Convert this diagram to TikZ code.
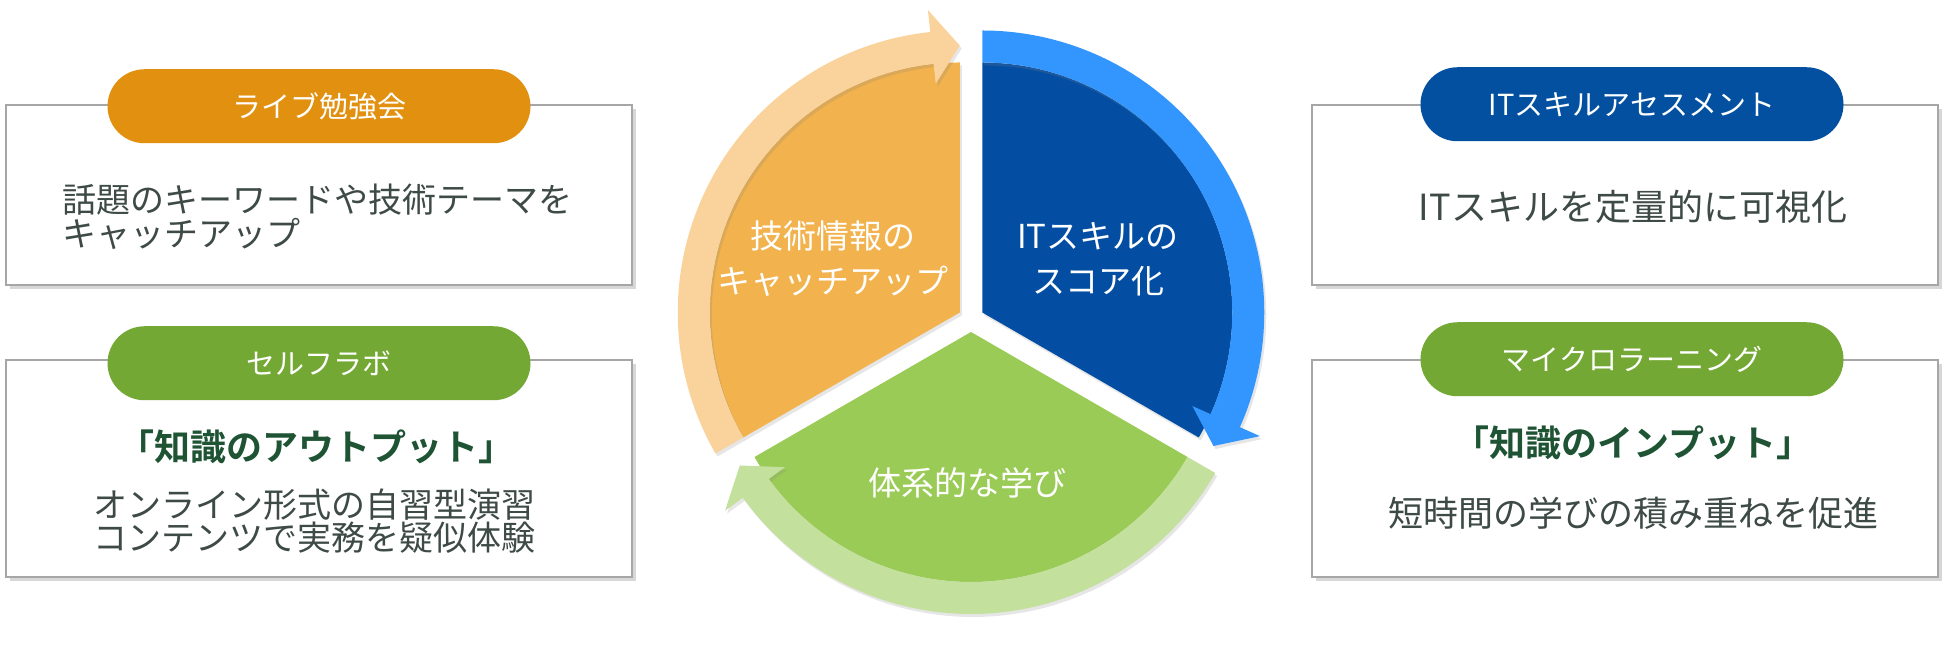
\documentclass[tikz,border=0pt]{standalone}
\usepackage{fontspec}
\setmainfont{Noto Sans CJK JP}[BoldFont={Noto Sans CJK JP Bold}]
\usetikzlibrary{calc,shadows}
\definecolor{orangeS}{HTML}{F2B24D}
\definecolor{orangeL}{HTML}{F9D39B}
\definecolor{orangeP}{HTML}{E2900F}
\definecolor{blueS}{HTML}{034EA2}
\definecolor{blueL}{HTML}{3296FE}
\definecolor{blueP}{HTML}{0350A0}
\definecolor{greenS}{HTML}{9BCB57}
\definecolor{greenL}{HTML}{C3E09C}
\definecolor{greenP}{HTML}{74A834}
\definecolor{headtxt}{HTML}{1E5434}
\definecolor{bodytxt}{HTML}{3D4A45}
\definecolor{frame}{HTML}{A6A6A6}
\begin{document}
\begin{tikzpicture}[x=.5pt,y=.5pt,
  panel/.style={draw=frame,line width=.75pt,fill=white,minimum width=313pt,
    drop shadow={shadow xshift=2pt,shadow yshift=-2pt,opacity=.35,fill=black!45}},
  pill/.style={rounded corners=18.5pt,minimum width=211.5pt,minimum height=37pt,
    text=white,inner sep=0pt,font=\fontsize{14.5}{16}\selectfont},
  body/.style={text=bodytxt,inner sep=0pt,font=\fontsize{17}{17}\selectfont},
  headline/.style={text=headtxt,inner sep=0pt,font=\bfseries\fontsize{18}{20}\selectfont},
  slicetxt/.style={text=white,inner sep=0pt,align=center,font=\fontsize{16.5}{22.5}\selectfont},
  pieshadow/.style={drop shadow={shadow xshift=1pt,shadow yshift=-1.5pt,opacity=.2}}]
  \useasboundingbox (0,0) rectangle (1950,646);

  % side panels
  \node[panel,minimum height=90pt] (lt) at (319,451) {};
  \node[panel,minimum height=108.5pt] (lb) at (319,177.5) {};
  \node[panel,minimum height=90pt] (rt) at (1625,451) {};
  \node[panel,minimum height=108.5pt] (rb) at (1625,177.5) {};
  \node[pill,fill=orangeP] (ltpill) at ([yshift=-1pt]lt.north) {ライブ勉強会};
  \node[pill,fill=greenP] (lbpill) at ([yshift=-2pt]lb.north) {セルフラボ};
  \node[pill,fill=blueP] (rtpill) at ([xshift=3.5pt]rt.north) {ITスキルアセスメント};
  \node[pill,fill=greenP] (rbpill) at ([xshift=3.5pt]rb.north) {マイクロラーニング};

  \node[body,anchor=west,align=left] (ltbody) at (62,429) {話題のキーワードや技術テーマを\\キャッチアップ};
  \node[headline] (lbhead) at (316,199) {「知識のアウトプット」};
  \node[body,align=center,font=\fontsize{17}{15.5}\selectfont] (lbbody) at (314,125) {オンライン形式の自習型演習\\コンテンツで実務を疑似体験};
  \node[body,font=\fontsize{18}{18}\selectfont] (rtbody) at (1633,439) {ITスキルを定量的に可視化};
  \node[headline] (rbhead) at (1633,203) {「知識のインプット」};
  \node[body,font=\fontsize{17.5}{18}\selectfont] (rbbody) at (1633,133) {短時間の学びの積み重ねを促進};

  % cycle
  \coordinate (c) at (971,327);
  \coordinate (o) at ($(c)+(150:13)$);
  \coordinate (b) at ($(c)+(30:13)$);
  \coordinate (g) at ($(c)+(270:13)$);
  \fill[orangeS,pieshadow] (o) -- ++(90:250) arc[start angle=90,end angle=210,radius=250] -- cycle;
  \fill[blueS,pieshadow] (b) -- ++(-30:250) arc[start angle=-30,end angle=90,radius=250] -- cycle;
  \fill[greenS,pieshadow] (g) -- ++(210:250) arc[start angle=210,end angle=330,radius=250] -- cycle;
  \begin{scope}[shift={(o)}]
    \fill[orangeL,pieshadow] (210:282) arc[start angle=210,end angle=96,radius=282] -- (96:304)
      -- (90:267) -- (96:230) -- (96:250) arc[start angle=96,end angle=210,radius=250] -- cycle;
  \end{scope}
  \begin{scope}[shift={(b)}]
    \fill[blueL,pieshadow] (90:282) arc[start angle=90,end angle=-24,radius=282] -- (-24:304)
      -- (-30:267) -- (-24:230) -- (-24:250) arc[start angle=-24,end angle=90,radius=250] -- cycle;
  \end{scope}
  \begin{scope}[shift={(g)}]
    \fill[greenL,pieshadow] (330:282) arc[start angle=330,end angle=216,radius=282] -- (216:304)
      -- (210:267) -- (216:230) -- (216:250) arc[start angle=216,end angle=330,radius=250] -- cycle;
  \end{scope}
  \node[slicetxt] (otxt) at (833,387) {技術情報の\\キャッチアップ};
  \node[slicetxt] (btxt) at (1098,387) {ITスキルの\\スコア化};
  \node[slicetxt] (gtxt) at (967,163) {体系的な学び};
\end{tikzpicture}
\end{document}
